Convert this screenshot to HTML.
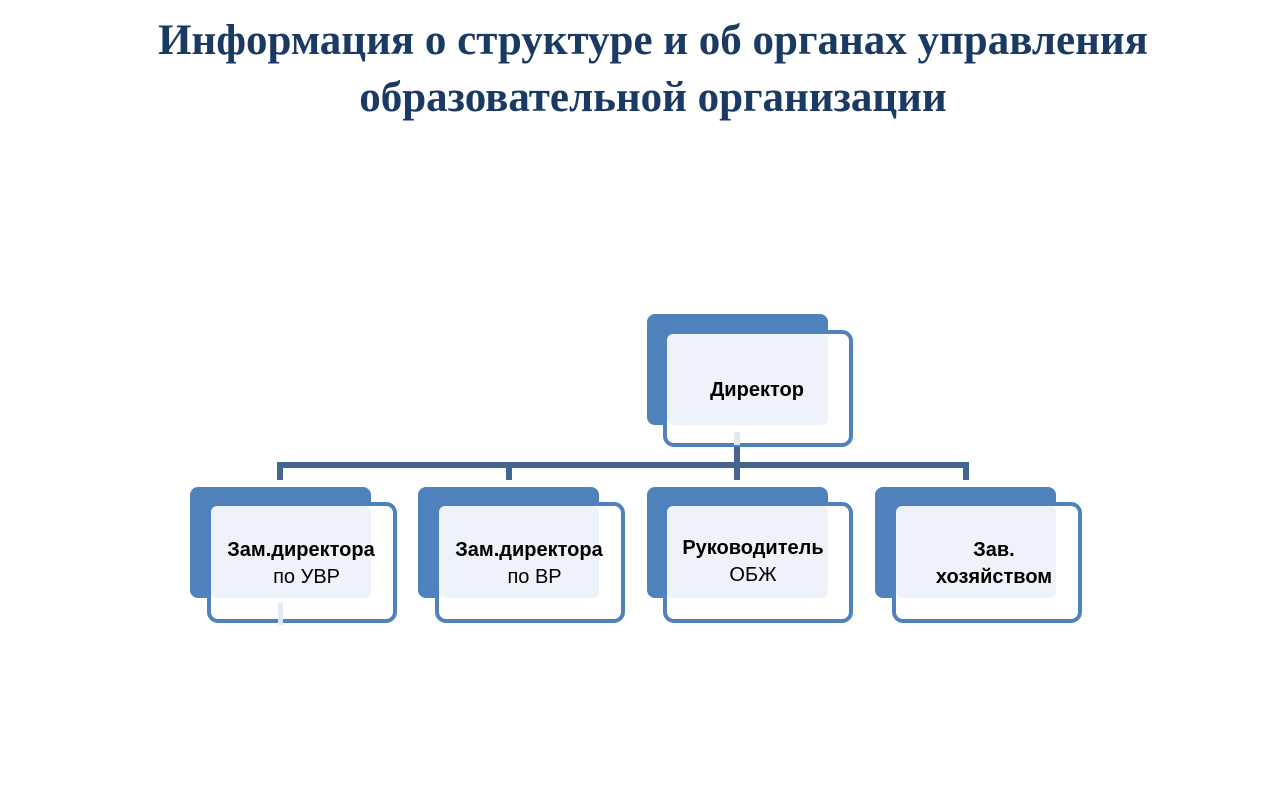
<!DOCTYPE html>
<html><head><meta charset="utf-8"><style>
body{margin:0;width:1288px;height:812px;background:#fff;position:relative;overflow:hidden}
.t{position:absolute;left:0;width:1306px;text-align:center;font:bold 43px "Liberation Serif",serif;color:#1b3a63}
.lb{position:absolute;font:bold 20px "Liberation Sans","DejaVu Sans",sans-serif;color:#000;text-align:center;line-height:27px;letter-spacing:0px}
.lb span{font-weight:normal}
</style></head><body>
<div class="t" style="top:16px">Информация о структуре и об органах управления</div>
<div class="t" style="top:73px">образовательной организации</div>
<svg width="1288" height="812" style="position:absolute;left:0;top:0">
<g fill="#44658f">
<rect x="278" y="462" width="691" height="6"/>
<rect x="277" y="462" width="6" height="18"/>
<rect x="506" y="462" width="6" height="18"/>
<rect x="734" y="447" width="6" height="33"/>
<rect x="963" y="462" width="6" height="18"/>
</g>
<g stroke="#4f81bd" stroke-width="4">
<rect x="647" y="314" width="181" height="111" rx="8" fill="#4f81bd" stroke="none"/>
<rect x="665" y="332" width="186" height="113" rx="9" fill="#fff"/>
<rect x="667" y="334" width="161" height="91" rx="6" fill="#eef2f9" stroke="none"/>
<rect x="190" y="487" width="181" height="111" rx="8" fill="#4f81bd" stroke="none"/>
<rect x="209" y="504" width="186" height="117" rx="9" fill="#fff"/>
<rect x="211" y="506" width="160" height="92" rx="6" fill="#eef2f9" stroke="none"/>
<rect x="418" y="487" width="181" height="111" rx="8" fill="#4f81bd" stroke="none"/>
<rect x="437" y="504" width="186" height="117" rx="9" fill="#fff"/>
<rect x="439" y="506" width="160" height="92" rx="6" fill="#eef2f9" stroke="none"/>
<rect x="647" y="487" width="181" height="111" rx="8" fill="#4f81bd" stroke="none"/>
<rect x="665" y="504" width="186" height="117" rx="9" fill="#fff"/>
<rect x="667" y="506" width="161" height="92" rx="6" fill="#eef2f9" stroke="none"/>
<rect x="875" y="487" width="181" height="111" rx="8" fill="#4f81bd" stroke="none"/>
<rect x="894" y="504" width="186" height="117" rx="9" fill="#fff"/>
<rect x="896" y="506" width="160" height="92" rx="6" fill="#eef2f9" stroke="none"/>
</g>
<rect x="734" y="432" width="6" height="13" fill="#e3e9f3"/>
<rect x="278" y="603" width="5" height="22" fill="#e3e9f3"/>
</svg>
<div class="lb" style="left:687px;top:377px;width:140px">Директор</div>
<div class="lb" style="left:206px;top:537px;width:190px">Зам.директора<br><span>&nbsp;&nbsp;по УВР</span></div>
<div class="lb" style="left:434px;top:537px;width:190px">Зам.директора<br><span>&nbsp;&nbsp;по ВР</span></div>
<div class="lb" style="left:658px;top:535px;width:190px">Руководитель<br><span>ОБЖ</span></div>
<div class="lb" style="left:914px;top:537px;width:160px">Зав.<br>хозяйством</div>
</body></html>
